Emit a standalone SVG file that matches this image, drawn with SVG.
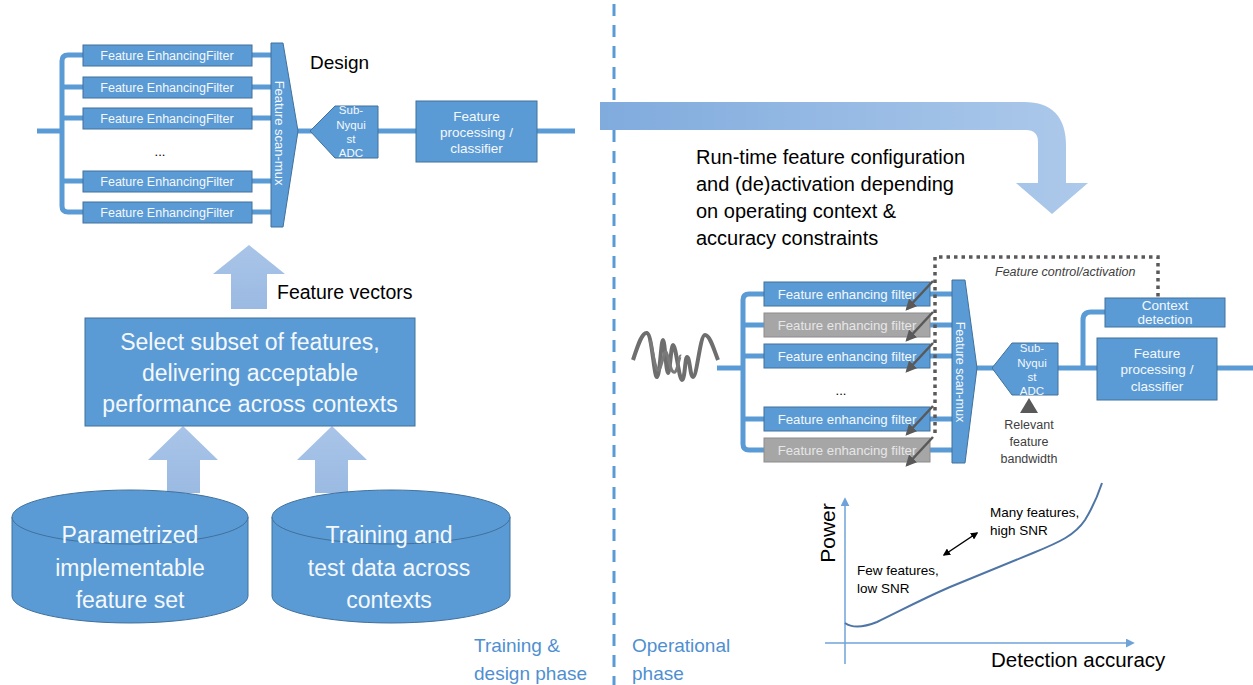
<svg xmlns="http://www.w3.org/2000/svg" width="1253" height="685" viewBox="0 0 1253 685">
<defs>
<style>
text{font-family:"Liberation Sans",Arial,sans-serif}
.box{fill:#5B9BD5;stroke:#41719C;stroke-width:1}
.gbox{fill:#A6A6A6;stroke:#8C8C8C;stroke-width:1}
.wt{fill:#F4F8FC;text-anchor:middle}
.gt{fill:#E6E6E6;text-anchor:middle}
.bl{fill:none;stroke:#5B9BD5;stroke-width:5;stroke-linejoin:round}
.uparrow{fill:url(#ug)}
.dark{fill:#000}
.note{fill:#404040}
.phase{fill:#4F8FD0;font-size:19px}
.sw{stroke:#595959;stroke-width:2.5;fill:none;marker-end:url(#gh)}
</style>
<linearGradient id="bg" gradientUnits="userSpaceOnUse" x1="600" y1="0" x2="1100" y2="0">
<stop offset="0" stop-color="#80ABDD"/><stop offset="1" stop-color="#AECAEB"/>
</linearGradient>
<linearGradient id="ug" x1="0" y1="0" x2="0" y2="1">
<stop offset="0" stop-color="#A9C4E8"/><stop offset="1" stop-color="#9BBAE2"/>
</linearGradient>
<marker id="gh" viewBox="0 0 10 10" refX="8" refY="5" markerWidth="4.5" markerHeight="4.5" orient="auto" markerUnits="strokeWidth">
<path d="M0,0 L10,5 L0,10 Z" fill="#595959"/>
</marker>
<marker id="ah" viewBox="0 0 10 10" refX="8" refY="5" markerWidth="5" markerHeight="5" orient="auto-start-reverse" markerUnits="strokeWidth">
<path d="M0,0 L10,5 L0,10 Z" fill="#000"/>
</marker>
<marker id="axh" viewBox="0 0 10 10" refX="8" refY="5" markerWidth="6" markerHeight="6" orient="auto" markerUnits="strokeWidth">
<path d="M0,0 L10,5 L0,10 Z" fill="#6FA3D8"/>
</marker>
</defs>
<rect width="1253" height="685" fill="#fff"/>

<!-- phase divider -->
<line id="divider" x1="614" y1="4" x2="614" y2="685" stroke="#5B9BD5" stroke-width="3" stroke-dasharray="12 9"/>

<!-- big curved arrow -->
<g id="runtime-arrow">
<path d="M600,102 H1024 Q1066,102 1066,146 V183 H1088 L1052,214 L1016,183 H1038 V142 Q1038,130 1026,130 H600 Z" fill="url(#bg)"/>
</g>

<g id="connectors">
<!-- left design block -->
<path class="bl" d="M37,131 H62"/>
<path class="bl" d="M83,55 H68 Q62,55 62,61 V206 Q62,212 68,212 H83"/>
<path class="bl" d="M62,87 H83 M62,118 H83 M62,181 H83"/>
<path class="bl" d="M252,55 H272 M252,87 H272 M252,118 H272 M252,181 H272 M252,212 H272"/>
<path class="bl" d="M296,131 H312"/>
<path class="bl" d="M378,131 H416"/>
<path class="bl" d="M537,131 H575"/>
<!-- right operational block -->
<path class="bl" d="M717,368 H743"/>
<path class="bl" d="M764,294 H749 Q743,294 743,300 V444 Q743,450 749,450 H764"/>
<path class="bl" d="M743,325 H764 M743,356 H764 M743,419 H764"/>
<path class="bl" d="M930,294 H953 M930,325 H953 M930,356 H953 M930,419 H953 M930,450 H953"/>
<path class="bl" d="M975,368 H994"/>
<path class="bl" d="M1058,368 H1097"/>
<path class="bl" d="M1083,368 V320 Q1083,312 1091,312 H1105"/>
<path class="bl" d="M1217,368 H1253"/>
<!-- feature control dotted line -->
<path d="M935,433 V257 H1158 V297" fill="none" stroke="#595959" stroke-width="3.5" stroke-dasharray="3.5 4"/>
<!-- up arrows -->
<path class="uparrow" d="M249,245 L285,274 H267 V309 H231 V274 H213 Z"/>
<path class="uparrow" d="M183,426 L218,460 H200 V493 H167 V460 H148 Z"/>
<path class="uparrow" d="M332,426 L367,460 H348 V493 H315 V460 H297 Z"/>
</g>

<text x="310" y="69" class="dark" font-size="19">Design</text>

<!-- left filters -->
<g id="lf1"><rect class="box" x="83" y="45" width="169" height="21"/><text class="wt" x="167" y="59.5" font-size="12.5">Feature EnhancingFilter</text></g>
<g id="lf2"><rect class="box" x="83" y="77" width="169" height="21"/><text class="wt" x="167" y="91.5" font-size="12.5">Feature EnhancingFilter</text></g>
<g id="lf3"><rect class="box" x="83" y="108" width="169" height="21"/><text class="wt" x="167" y="122.5" font-size="12.5">Feature EnhancingFilter</text></g>
<text x="160" y="156" class="dark" font-size="13" text-anchor="middle">...</text>
<g id="lf4"><rect class="box" x="83" y="171" width="169" height="21"/><text class="wt" x="167" y="185.5" font-size="12.5">Feature EnhancingFilter</text></g>
<g id="lf5"><rect class="box" x="83" y="202" width="169" height="21"/><text class="wt" x="167" y="216.5" font-size="12.5">Feature EnhancingFilter</text></g>

<g id="lmux"><path class="box" d="M271,43 H283 L298,131 L283,227 H271 Z"/><text class="wt" font-size="13" transform="translate(279,133) rotate(90)" y="4.5">Feature scan-mux</text></g>
<g id="ladc"><path class="box" d="M310,131 L335,106 H378 V158 H335 Z"/>
<text class="wt" font-size="11.5" x="351" y="114">Sub-</text><text class="wt" font-size="11.5" x="351" y="128.5">Nyqui</text><text class="wt" font-size="11.5" x="351" y="143">st</text><text class="wt" font-size="11.5" x="351" y="157">ADC</text></g>
<g id="lproc"><rect class="box" x="416" y="101" width="121" height="61"/>
<text class="wt" font-size="13.5" x="476.5" y="121">Feature</text><text class="wt" font-size="13.5" x="476.5" y="137">processing /</text><text class="wt" font-size="13.5" x="476.5" y="153">classifier</text></g>

<text x="277" y="299" class="dark" font-size="19.5">Feature vectors</text>

<g id="select"><rect class="box" x="85" y="318" width="330" height="108"/>
<text class="wt" font-size="23" x="250" y="350">Select subset of features,</text>
<text class="wt" font-size="23" x="250" y="381">delivering acceptable</text>
<text class="wt" font-size="23" x="250" y="412">performance across contexts</text></g>

<g id="cyl1"><path class="box" d="M12,517 V596 A118,27 0 0 0 248,596 V517"/><ellipse class="box" cx="130" cy="517" rx="118" ry="27"/>
<text class="wt" font-size="23" x="130" y="543">Parametrized</text><text class="wt" font-size="23" x="130" y="576">implementable</text><text class="wt" font-size="23" x="130" y="608">feature set</text></g>
<g id="cyl2"><path class="box" d="M272,517 V596 A119,27 0 0 0 510,596 V517"/><ellipse class="box" cx="391" cy="517" rx="119" ry="27"/>
<text class="wt" font-size="23" x="389" y="543">Training and</text><text class="wt" font-size="23" x="389" y="576">test data across</text><text class="wt" font-size="23" x="389" y="608">contexts</text></g>

<text x="474" y="652" class="phase">Training &amp;</text>
<text x="474" y="680" class="phase">design phase</text>
<text x="632" y="652" class="phase">Operational</text>
<text x="632" y="680" class="phase">phase</text>

<g id="runtime-text" class="dark" font-size="20">
<text x="696" y="164">Run-time feature configuration</text>
<text x="696" y="191">and (de)activation depending</text>
<text x="696" y="218">on operating context &amp;</text>
<text x="696" y="245">accuracy constraints</text>
</g>

<!-- signal -->
<g id="signal"><path d="M633,360 C638,345 642,332 647,333 C652,334 654,378 657,377 C660,376 661,340 663,340 C665,340 666,373 668,373 C670,373 671,345 673,345 C676,345 679,380 682,380 C685,380 685,357 687,357 C690,357 690,377 693,377 C697,377 700,335 705,335 C710,335 714,350 718,360" fill="none" stroke="#6E6E6E" stroke-width="4" stroke-linejoin="round"/>
<path d="M650,340 C653,350 655,372 659,370 C662,366 664,350 666,352 C669,356 670,374 675,372 C678,370 679,355 681,356" fill="none" stroke="#7A7A7A" stroke-width="3"/></g>

<!-- right filters -->
<g id="rf1"><rect class="box" x="764" y="282" width="166" height="24"/><text class="wt" x="847" y="298.5" font-size="13.2">Feature enhancing filter</text></g>
<g id="rf2"><rect class="gbox" x="764" y="313" width="166" height="24"/><text class="gt" x="847" y="329.5" font-size="13.2">Feature enhancing filter</text></g>
<g id="rf3"><rect class="box" x="764" y="344" width="166" height="24"/><text class="wt" x="847" y="360.5" font-size="13.2">Feature enhancing filter</text></g>
<text x="841" y="395" class="dark" font-size="13" text-anchor="middle">...</text>
<g id="rf4"><rect class="box" x="764" y="407" width="166" height="24"/><text class="wt" x="847" y="423.5" font-size="13.2">Feature enhancing filter</text></g>
<g id="rf5"><rect class="gbox" x="764" y="438" width="166" height="24"/><text class="gt" x="847" y="454.5" font-size="13.2">Feature enhancing filter</text></g>

<g id="switches">
<line class="sw" x1="933" y1="281" x2="907" y2="309"/>
<line class="sw" x1="933" y1="312" x2="907" y2="340"/>
<line class="sw" x1="933" y1="343" x2="907" y2="371"/>
<line class="sw" x1="933" y1="406" x2="907" y2="434"/>
<line class="sw" x1="933" y1="437" x2="907" y2="465"/>
</g>

<text x="995" y="276" class="note" font-size="12.5" font-style="italic">Feature control/activation</text>

<g id="rmux"><path class="box" d="M952,280 H965 L977,368 L965,463 H952 Z"/><text class="wt" font-size="12.5" transform="translate(960,372) rotate(90)" y="4.5">Feature scan-mux</text></g>
<g id="radc"><path class="box" d="M992,368 L1012,343 H1058 V395 H1012 Z"/>
<text class="wt" font-size="11.5" x="1032" y="352">Sub-</text><text class="wt" font-size="11.5" x="1032" y="367">Nyqui</text><text class="wt" font-size="11.5" x="1032" y="381">st</text><text class="wt" font-size="11.5" x="1032" y="394.5">ADC</text></g>
<g id="bandwidth"><path d="M1029,398 L1038,413 H1020 Z" fill="#595959"/>
<text class="note" font-size="12.5" text-anchor="middle" x="1029" y="429">Relevant</text>
<text class="note" font-size="12.5" text-anchor="middle" x="1029" y="446">feature</text>
<text class="note" font-size="12.5" text-anchor="middle" x="1029" y="463">bandwidth</text></g>
<g id="context"><rect class="box" x="1105" y="298" width="120" height="29"/>
<text class="wt" font-size="13.5" x="1165" y="310">Context</text><text class="wt" font-size="13.5" x="1165" y="324">detection</text></g>
<g id="rproc"><rect class="box" x="1097" y="338" width="120" height="62"/>
<text class="wt" font-size="13.5" x="1157" y="358">Feature</text><text class="wt" font-size="13.5" x="1157" y="374">processing /</text><text class="wt" font-size="13.5" x="1157" y="391">classifier</text></g>

<!-- graph -->
<g id="graph">
<line x1="845" y1="664" x2="845" y2="499" stroke="#6FA3D8" stroke-width="1.5" marker-end="url(#axh)"/>
<line x1="825" y1="643" x2="1133" y2="643" stroke="#6FA3D8" stroke-width="1.5" marker-end="url(#axh)"/>
<path d="M845,623 C852,628 862,628 877,622 C900,611 920,600 950,587 L1033,553 C1060,542 1075,535 1085,520 C1093,507 1098,495 1102,483" fill="none" stroke="#4E75A6" stroke-width="2"/>
<line x1="944" y1="555" x2="977" y2="533" stroke="#000" stroke-width="1.5" marker-start="url(#ah)" marker-end="url(#ah)"/>
<text x="0" y="0" class="dark" font-size="21" text-anchor="middle" transform="translate(835,533) rotate(-90)">Power</text>
<text x="991" y="667" class="dark" font-size="20.5">Detection accuracy</text>
<text x="990" y="517" class="dark" font-size="13.5">Many features,</text>
<text x="990" y="535" class="dark" font-size="13.5">high SNR</text>
<text x="857" y="575" class="dark" font-size="13.5">Few features,</text>
<text x="857" y="593" class="dark" font-size="13.5">low SNR</text>
</g>
</svg>
